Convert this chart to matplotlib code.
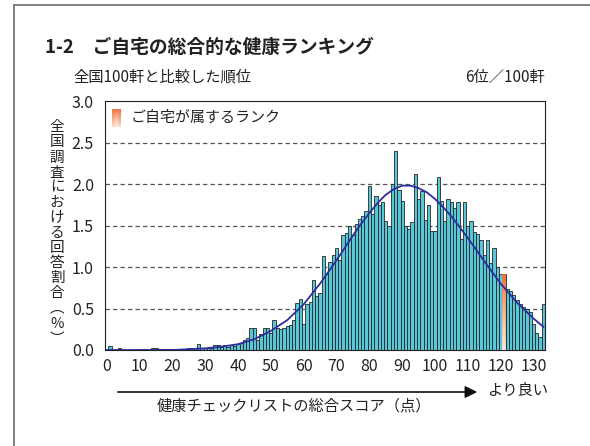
import numpy as np
import matplotlib
matplotlib.use('Agg')
import matplotlib.pyplot as plt
from matplotlib.lines import Line2D
from matplotlib.patches import FancyArrowPatch

plt.rcParams['font.family'] = ['Noto Sans CJK JP', 'DejaVu Sans']

# score 0..133, share of houses (%)
scores = list(range(134))
share = [
    0.0, 0.05, 0.0, 0.0, 0.02, 0.0, 0.0, 0.0, 0.0, 0.0,
    0.015, 0.015, 0.015, 0.0, 0.03, 0.03, 0.01, 0.01, 0.01, 0.01,
    0.01, 0.01, 0.01, 0.01, 0.01, 0.02, 0.02, 0.02, 0.07, 0.02,
    0.02, 0.02, 0.03, 0.06, 0.06, 0.04, 0.06, 0.04, 0.06, 0.05,
    0.07, 0.08, 0.12, 0.15, 0.27, 0.26, 0.12, 0.19, 0.26, 0.27,
    0.20, 0.36, 0.27, 0.25, 0.27, 0.29, 0.30, 0.36, 0.57, 0.61,
    0.31, 0.55, 0.58, 0.84, 0.65, 0.69, 1.13, 0.92, 1.06, 1.15,
    1.23, 1.09, 1.39, 1.41, 1.50, 1.39, 1.52, 1.58, 1.61, 1.67,
    1.97, 1.64, 1.86, 1.75, 1.78, 1.56, 1.50, 2.00, 2.40, 1.93,
    1.79, 1.50, 1.46, 1.54, 2.12, 1.82, 1.92, 1.57, 1.75, 1.43,
    1.43, 2.09, 1.79, 1.55, 1.82, 1.78, 1.71, 1.78, 1.34, 1.78,
    1.50, 1.55, 1.42, 1.40, 1.33, 1.14, 1.33, 1.05, 1.23, 1.00,
    0.91, 0.91, 0.74, 0.71, 0.66, 0.60, 0.55, 0.52, 0.50, 0.46,
    0.31, 0.20, 0.16, 0.55,
]
my_score = 121

# fitted curve
curve_x = [0, 5, 10, 15, 20, 25, 30, 35, 40, 45, 50, 55, 60, 65, 70, 75, 77.5,
           80, 82.5, 85, 87.5, 90, 92.5, 95, 97.5, 100, 102.5, 105, 110, 115,
           120, 125, 130, 133]
curve_y = [0, 0, 0, 0, 0, 0.01, 0.02, 0.04, 0.07, 0.13, 0.23, 0.36, 0.55, 0.80,
           1.08, 1.38, 1.52, 1.65, 1.77, 1.87, 1.94, 1.98, 1.98, 1.95, 1.90,
           1.82, 1.72, 1.61, 1.35, 1.07, 0.80, 0.57, 0.38, 0.28]

xticks = list(range(0, 131, 10))
yticks = [0.0, 0.5, 1.0, 1.5, 2.0, 2.5, 3.0]

W, H = 590, 446


def P(x, y):
    return x / W, 1 - y / H


def orange_grad(n=64, m=16):
    top = np.array([0.93, 0.45, 0.24])
    bot = np.array([0.99, 0.86, 0.78])
    v = np.linspace(0, 1, n)[:, None, None]
    base = top * (1 - v) + bot * v
    u = np.linspace(-1, 1, m)[None, :, None]
    hl = (1 - np.abs(u)) ** 2 * 0.7 * v
    img = base + (1 - base) * hl
    return np.clip(img, 0, 1)


fig = plt.figure(figsize=(5.9, 4.46), dpi=100)

# outer frame
fig.add_artist(Line2D([14 / W, 14 / W], [0, 1 - 5 / H], transform=fig.transFigure,
                      color='#777777', lw=1.3))
fig.add_artist(Line2D([14 / W, 1], [1 - 5 / H, 1 - 5 / H], transform=fig.transFigure,
                      color='#777777', lw=1.3))

ax = fig.add_axes([105 / W, 1 - 350 / H, 440 / W, 249 / H])

for yv in yticks[1:-1]:
    ax.axhline(yv, color='#555555', lw=0.9, ls=(0, (3.5, 2.5)), zorder=1)

colors = ['#58C7D7'] * len(scores)
ax.bar(scores, share, width=1.0, color=colors, edgecolor='#262626', linewidth=0.6, zorder=2)

# highlighted bar
h = share[my_score]
ax.bar([my_score], [h], width=1.0, color='white', edgecolor='none', zorder=3)
ax.imshow(orange_grad(), extent=(my_score - 0.5, my_score + 0.5, 0, h), aspect='auto',
          zorder=3.5, interpolation='bilinear')

ax.plot(curve_x, curve_y, color='#2B2E9C', lw=1.3, zorder=4)

ax.set_xlim(-0.5, 133.5)
ax.set_ylim(0, 3.0)
ax.set_xticks(xticks)
ax.set_yticks(yticks)
ax.set_yticklabels(['%.1f' % t for t in yticks])
ax.tick_params(axis='both', length=0, labelsize=11.5, colors='#222222')
ax.tick_params(axis='x', pad=6)
ax.tick_params(axis='y', pad=8)
for s in ax.spines.values():
    s.set_color('#222222')
    s.set_linewidth(0.8)

# legend
lax = fig.add_axes([112 / W, 1 - 127 / H, 8 / W, 18 / H])
lax.imshow(orange_grad(), aspect='auto', interpolation='bilinear')
lax.axis('off')
fig.text(*P(131, 118), 'ご自宅が属するランク', fontsize=10.8, va='center', ha='left', color='#222222')

# titles
fig.text(*P(45, 47), '1-2　ご自宅の総合的な健康ランキング', fontsize=13.5, fontweight='bold',
         va='center', ha='left', color='#222222')
fig.text(*P(73, 77), '全国100軒と比較した順位', fontsize=11, va='center', ha='left', color='#222222')
fig.text(*P(545, 77), '6位／100軒', fontsize=11, va='center', ha='right', color='#222222')

# vertical y label
ylab = '全国調査における回答割合︵%︶'
fig.text(*P(57, 233), '\n'.join(ylab), fontsize=10.5, va='center', ha='center',
         multialignment='center', linespacing=1.1, color='#222222')

# bottom arrow and labels
arr = FancyArrowPatch(P(115, 392), P(480, 392), transform=fig.transFigure,
                      arrowstyle='-|>', mutation_scale=18, color='#111111', lw=1.2)
fig.add_artist(arr)
fig.text(*P(487, 390), 'より良い', fontsize=11, va='center', ha='left', color='#222222')
fig.text(*P(294, 406), '健康チェックリストの総合スコア（点）', fontsize=11, va='center', ha='center',
         color='#222222')

fig.savefig('out.png', dpi=100)
